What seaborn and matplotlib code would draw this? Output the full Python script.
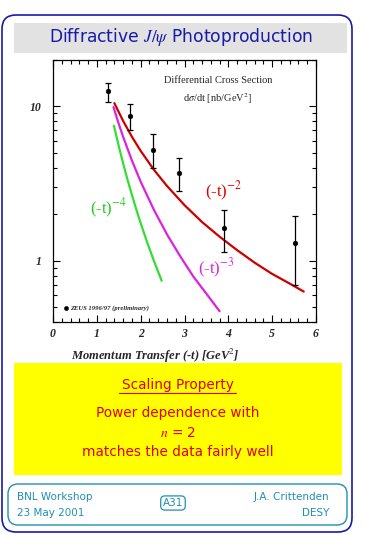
import numpy as np
import pandas as pd
import matplotlib
matplotlib.use("Agg")
import matplotlib.pyplot as plt
import seaborn as sns
from matplotlib.patches import FancyBboxPatch
from matplotlib.lines import Line2D
from matplotlib.ticker import FixedLocator, MultipleLocator, NullFormatter

# data
t_data = [1.25, 1.76, 2.27, 2.88, 3.89, 5.52]
xsec_data = [12.5, 8.7, 5.25, 3.7, 1.62, 1.31]
err_up = [14.2, 10.3, 6.65, 4.6, 2.12, 1.94]
err_down = [10.7, 7.0, 4.0, 2.82, 1.14, 0.70]

t_n2 = [1.40, 1.6, 1.8, 2.0, 2.3, 2.6, 3.0, 3.4, 3.8, 4.2, 4.6, 5.0, 5.4, 5.72]
xs_n2 = [10.5, 8.05, 6.36, 5.15, 3.89, 3.05, 2.29, 1.78, 1.43, 1.17, 0.97, 0.82, 0.71, 0.63]
t_n3 = [1.38, 1.5, 1.6, 1.8, 2.0, 2.3, 2.6, 2.9, 3.2, 3.5, 3.8]
xs_n3 = [9.9, 7.7, 6.35, 4.46, 3.25, 2.14, 1.48, 1.07, 0.79, 0.61, 0.47]
t_n4 = [1.39, 1.5, 1.6, 1.7, 1.8, 1.9, 2.0, 2.15, 2.3, 2.48]
xs_n4 = [7.5, 5.53, 4.27, 3.35, 2.67, 2.15, 1.75, 1.31, 1.0, 0.74]

x_ticks = [0, 1, 2, 3, 4, 5, 6]
y_ticks = [1, 10]
y_tick_labels = ["1", "10"]

sns.set_theme(style="white")
plt.rcParams["font.family"] = ["DejaVu Sans"]
plt.rcParams["mathtext.fontset"] = "stix"

W, H = 365, 535
fig = plt.figure(figsize=(W / 100, H / 100), dpi=100)
fig.patch.set_facecolor("white")


def fx(x):
    return x / W


def fy(y):
    return 1 - y / H


def rbox(x0, y0, x1, y1, r, ec, fc="none", lw=1.0):
    p = FancyBboxPatch((fx(x0), fy(y1)), fx(x1 - x0), fy(y0) - fy(y1),
                       boxstyle="round,pad=0,rounding_size=%f" % (r / W),
                       transform=fig.transFigure, ec=ec, fc=fc, lw=lw,
                       mutation_aspect=W / H)
    fig.add_artist(p)


# page frame, title and boxes
blue = "#1a1aa8"
teal = "#1f8fb5"
red_txt = "#e00000"
rbox(2, 15, 352, 532, 14, blue, lw=1.2)
fig.add_artist(plt.Rectangle((fx(14), fy(53)), fx(333), fy(23) - fy(53),
                             transform=fig.transFigure, fc="#e2e2e2", ec="none"))
fig.text(fx(181), fy(37), r"Diffractive $J/\psi$ Photoproduction", color=blue,
         fontsize=12.3, ha="center", va="center")

fig.add_artist(plt.Rectangle((fx(14), fy(475)), fx(328), fy(363) - fy(475),
                             transform=fig.transFigure, fc="#ffff00", ec="none"))
fig.text(fx(178), fy(385), "Scaling Property", color=red_txt, fontsize=9.8,
         ha="center", va="center")
fig.add_artist(Line2D([fx(119), fx(236)], [fy(393), fy(393)], color=red_txt,
                      lw=0.8, transform=fig.transFigure))
fig.text(fx(178), fy(413), "Power dependence with", color=red_txt, fontsize=9.8,
         ha="center", va="center")
fig.text(fx(178), fy(433), r"$n$ = 2", color=red_txt, fontsize=9.8,
         ha="center", va="center")
fig.text(fx(178), fy(452), "matches the data fairly well", color=red_txt,
         fontsize=9.8, ha="center", va="center")

rbox(8, 484, 347, 525, 10, teal, lw=1.0)
foot = dict(color=teal, fontsize=7.5, va="center")
fig.text(fx(17), fy(497), "BNL Workshop", **foot)
fig.text(fx(17), fy(513), "23 May 2001", **foot)
fig.text(fx(329), fy(497), "J.A. Crittenden", ha="right", **foot)
fig.text(fx(329), fy(513), "DESY", ha="right", **foot)
fig.text(fx(173), fy(503), "A31", ha="center",
         bbox=dict(boxstyle="round,pad=0.2,rounding_size=0.4", fc="none", ec=teal, lw=0.9),
         **foot)

# main plot
ax = fig.add_axes([fx(53), fy(322), fx(263), fy(60) - fy(322)])
ax.set_facecolor("white")

curves = pd.DataFrame({
    "t": t_n2 + t_n3 + t_n4,
    "xs": xs_n2 + xs_n3 + xs_n4,
    "n": ["2"] * len(t_n2) + ["3"] * len(t_n3) + ["4"] * len(t_n4),
})
sns.lineplot(data=curves, x="t", y="xs", hue="n", sort=False, estimator=None,
             palette={"2": "#cc0000", "3": "#dd22dd", "4": "#33dd33"},
             lw=1.6, legend=False, ax=ax)

pts = pd.DataFrame({"t": t_data, "xs": xsec_data})
yerr = [np.array(xsec_data) - np.array(err_down), np.array(err_up) - np.array(xsec_data)]
ax.errorbar(t_data, xsec_data, yerr=yerr, fmt="none", ecolor="black",
            elinewidth=0.9, capsize=2.2, capthick=0.9)
sns.scatterplot(data=pts, x="t", y="xs", color="black", s=12, edgecolor="black",
                label="ZEUS 1996/97 (preliminary)", ax=ax, zorder=5)

ax.set_yscale("log")
ax.set_xlim(0, 6)
ax.set_ylim(0.4, 20)
ax.xaxis.set_major_locator(FixedLocator(x_ticks))
ax.xaxis.set_minor_locator(MultipleLocator(0.2))
ax.yaxis.set_major_locator(FixedLocator(y_ticks))
ax.set_yticklabels(y_tick_labels)
ax.yaxis.set_minor_locator(FixedLocator([0.4, 0.5, 0.6, 0.7, 0.8, 0.9,
                                         2, 3, 4, 5, 6, 7, 8, 9, 20]))
ax.yaxis.set_minor_formatter(NullFormatter())
ax.tick_params(which="both", direction="in", top=True, right=True,
               bottom=True, left=True, color="black", width=0.8)
ax.tick_params(which="major", length=5, pad=4)
ax.tick_params(which="minor", length=2.8)
ax.tick_params(axis="y", which="major", pad=8)
tick_font = dict(family="Liberation Serif", weight="bold", style="italic", size=8.5)
for lab in ax.get_xticklabels() + ax.get_yticklabels():
    lab.set_fontproperties(tick_font)
for s in ax.spines.values():
    s.set_color("black")
    s.set_linewidth(0.9)

ax.set_xlabel("Momentum Transfer (-t) [GeV$^2$]", family="Liberation Serif",
              weight="bold", style="italic", size=9)
ax.xaxis.set_label_coords(0.39, -0.095)
ax.set_ylabel("")

ax.text(0.627, 0.92, "Differential Cross Section", transform=ax.transAxes,
        ha="center", va="center", family="Liberation Serif", size=7.5)
ax.text(0.627, 0.851, r"d$\sigma$/dt [nb/GeV$^2$]", transform=ax.transAxes,
        ha="center", va="center", family="Liberation Serif", size=7.5)

lab_font = dict(family="Liberation Serif", size=12, va="center")
ax.text(3.47, 2.81, "(-t)$^{-2}$", color="#e00000", **lab_font)
ax.text(3.31, 0.89, "(-t)$^{-3}$", color="#dd22dd", **lab_font)
ax.text(0.84, 2.18, "(-t)$^{-4}$", color="#22cc22", **lab_font)

ax.legend(loc="center left", bbox_to_anchor=(0.035, 0.053), frameon=False,
          handletextpad=0.2, handlelength=1.0, borderpad=0, borderaxespad=0,
          markerscale=0.9,
          prop=dict(family="Liberation Serif", weight="bold", style="italic", size=4.8))

fig.savefig("out.png", dpi=100)
